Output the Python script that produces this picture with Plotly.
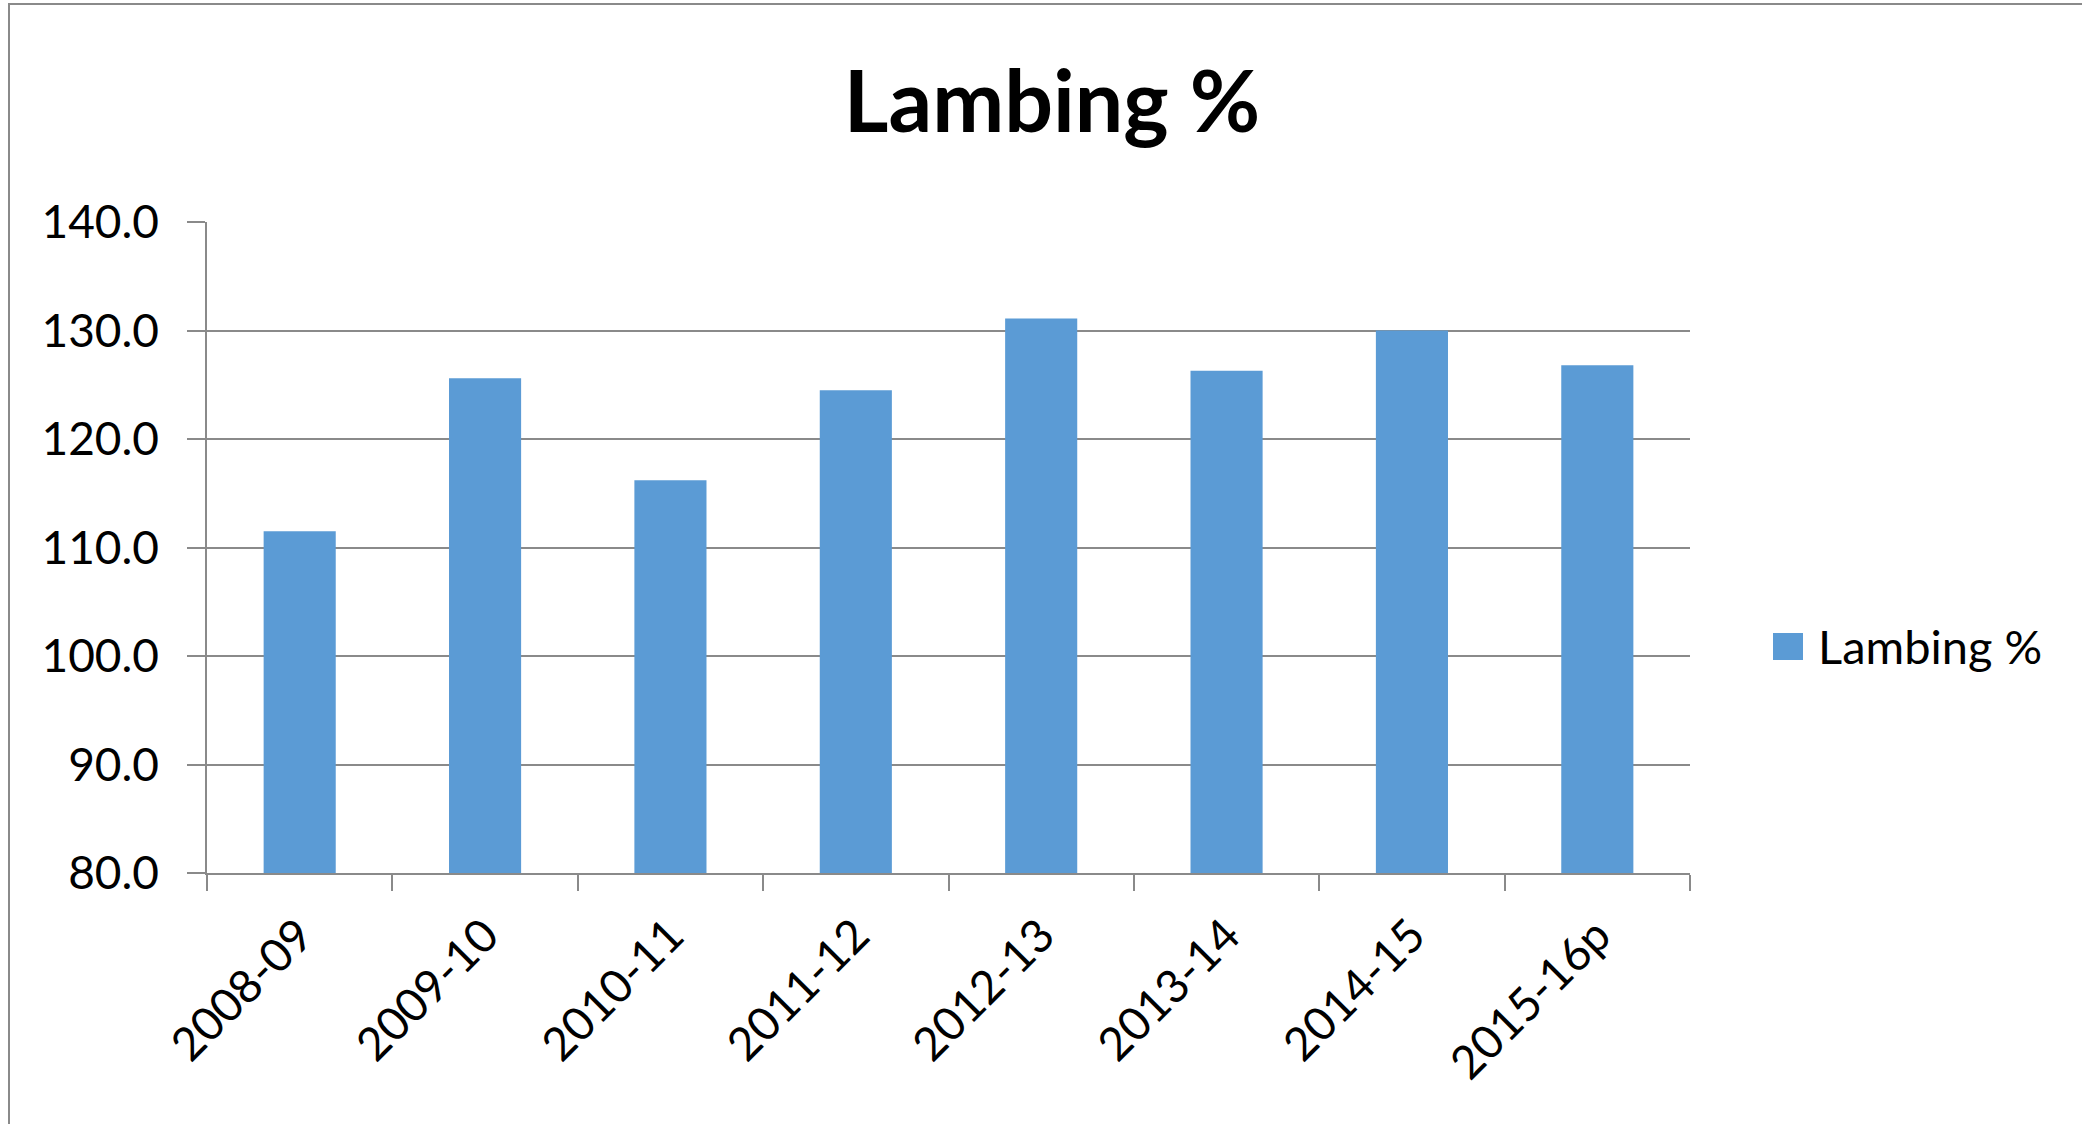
import plotly.graph_objects as go

# Data
seasons = ["2008-09", "2009-10", "2010-11", "2011-12", "2012-13", "2013-14", "2014-15", "2015-16p"]
lambing_pct = [111.5, 125.6, 116.2, 124.5, 131.1, 126.3, 130.0, 126.8]
y_ticks = [80, 90, 100, 110, 120, 130, 140]
series_name = "Lambing %"

W, H = 2082, 1124
# reference-pixel geometry of the plot area
REF_L, REF_R, REF_T, REF_B = 207, 1690, 222, 873
ML, MT = REF_L, REF_T
MR, MB = W - REF_R, H - REF_B
PW = REF_R - REF_L
PH = REF_B - REF_T

def px(x):
    return (x - REF_L) / PW

def py(y):
    return (REF_B - y) / PH

BAR = "#5B9BD5"
GRID = "#8a8a8a"
FONT = "Lato"

fig = go.Figure()
fig.add_trace(go.Bar(x=seasons, y=lambing_pct, name=series_name,
                     marker=dict(color=BAR, line=dict(width=0)), showlegend=False))

fig.update_layout(
    width=W, height=H,
    margin=dict(l=ML, r=MR, t=MT, b=MB, autoexpand=False),
    paper_bgcolor="white", plot_bgcolor="white",
    bargap=0.611,
    font=dict(family=FONT, size=46, color="black"),
    title=dict(text="<b>Lambing %</b>", x=1052 / W, xanchor="center", xref="container",
               y=1 - 102 / H, yanchor="middle", yref="container",
               font=dict(family=FONT, size=86, color="black")),
    showlegend=False,
)

fig.update_yaxes(range=[80, 140], tickvals=y_ticks, tickformat=".1f",
                 showgrid=True, gridcolor=GRID, gridwidth=1.6,
                 showline=True, linecolor=GRID, linewidth=1.5,
                 ticks="outside", ticklen=18, tickcolor=GRID, tickwidth=1.5,
                 ticklabelstandoff=19,
                 zeroline=False, tickfont=dict(family=FONT, size=46, color="black"))
fig.update_xaxes(type="category", showline=True, linecolor=GRID, linewidth=2,
                 ticks="outside", ticklen=16, tickcolor=GRID, tickwidth=1.5,
                 tickson="boundaries", tickangle=-45, showgrid=False,
                 ticklabelstandoff=15,
                 tickfont=dict(family=FONT, size=46, color="black"))

# legend (drawn manually to match the large swatch)
fig.add_shape(type="rect", xref="paper", yref="paper",
              x0=px(1773), x1=px(1803), y0=py(660), y1=py(633),
              fillcolor=BAR, line=dict(width=0))
fig.add_annotation(text=series_name, xref="paper", yref="paper",
                   x=px(1816), y=py(646), xanchor="left", yanchor="middle",
                   showarrow=False, font=dict(family=FONT, size=47, color="black"))

# outer chart border
fig.add_shape(type="rect", xref="paper", yref="paper",
              x0=px(9), x1=px(2300), y0=py(1400), y1=py(4),
              line=dict(color="#8a8a8a", width=2), fillcolor="rgba(0,0,0,0)", layer="below")

fig.write_html("out.html",
               config={"displayModeBar": False},
               post_script="document.body.style.margin='0px';document.body.style.overflow='hidden';")
